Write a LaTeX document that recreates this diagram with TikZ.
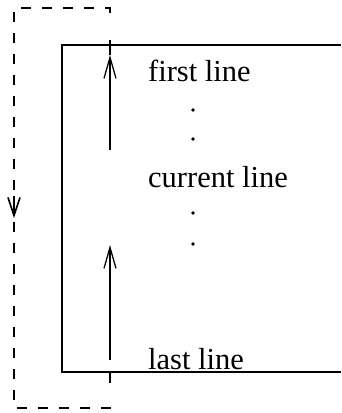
\documentclass[tikz,border=0pt]{standalone}
\usepackage{fontspec}
\setmainfont{Liberation Serif}
\usetikzlibrary{arrows.meta}
\begin{document}
\begin{tikzpicture}[x=1pt,y=-1pt,
  frame/.style={line width=1.3pt},
  loopline/.style={line width=2pt,dash pattern=on 10pt off 11pt},
  upar/.style={line width=1.3pt,-{Straight Barb[length=21pt,width=12pt]}},
  lbl/.style={anchor=base west,inner sep=0pt,font=\fontsize{30.5}{36}\selectfont},
  dot/.style={circle,fill=black,inner sep=0pt,minimum size=3.8pt}]
\useasboundingbox (0,0) rectangle (341,413);
% box open on the right
\draw[frame] (341,45) -- (62,45) -- (62,372) -- (341,372);
% dashed loop
\coordinate (ltop) at (110,13);
\coordinate (lbot) at (110,402);
\draw[loopline] (ltop) -- (110,8) -- (14,8) -- (14,408) -- (110,408) -- (lbot);
\draw[line width=1.6pt,-{Straight Barb[length=18pt,width=12pt]}] (14,196) -- (14,218);
% solid arrows
\coordinate (a1s) at (110,150);
\coordinate (a1t) at (110,55);
\coordinate (a1e) at (110,40);
\draw[upar] (a1s) -- (a1t);
\draw[frame] (a1t) -- (a1e);
\coordinate (a2s) at (110,360);
\coordinate (a2t) at (110,245);
\draw[upar] (a2s) -- (a2t);
\coordinate (t1) at (110,372);
\coordinate (t2) at (110,383);
\draw[frame] (t1) -- (t2);
% labels
\node[lbl] (first) at (148,81) {first line};
\node[lbl] (current) at (148,187) {current line};
\node[lbl] (last) at (148,369) {last line};
\node[dot] (d1) at (193,110) {};
\node[dot] (d2) at (193,139) {};
\node[dot] (d3) at (193,213) {};
\node[dot] (d4) at (193,244) {};
\end{tikzpicture}
\end{document}
